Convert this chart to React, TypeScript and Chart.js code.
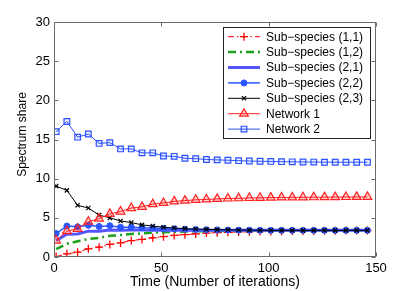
import React, { useEffect, useRef } from "react";
import { Chart, registerables } from "chart.js";
import { drawPoint } from "chart.js/helpers";

Chart.register(...registerables);

const ITER = [1, 6, 11, 16, 21, 26, 31, 36, 41, 46, 51, 56, 61, 66, 71, 76, 81, 86, 91, 96, 101, 106, 111, 116, 121, 126, 131, 136, 141, 146];
const SUB11 = [0.05, 0.4, 0.62, 1.05, 1.25, 1.6, 1.8, 2.1, 2.25, 2.45, 2.6, 2.75, 2.85, 2.95, 3.05, 3.1, 3.15, 3.2, 3.22, 3.25, 3.27, 3.3, 3.31, 3.32, 3.33, 3.35, 3.36, 3.37, 3.38, 3.38];
const SUB12 = [1.0, 1.7, 2.0, 2.3, 2.45, 2.7, 2.8, 2.95, 3.0, 3.1, 3.15, 3.2, 3.25, 3.28, 3.3, 3.32, 3.34, 3.35, 3.36, 3.37, 3.38, 3.38, 3.39, 3.39, 3.4, 3.4, 3.4, 3.4, 3.4, 3.4];
const SUB21 = [2.1, 2.9, 2.95, 3.3, 3.3, 3.45, 3.4, 3.45, 3.45, 3.42, 3.42, 3.42, 3.41, 3.41, 3.4, 3.4, 3.4, 3.4, 3.4, 3.4, 3.4, 3.4, 3.4, 3.4, 3.4, 3.4, 3.4, 3.4, 3.4, 3.4];
const SUB22 = [3.0, 3.95, 3.85, 4.05, 3.9, 4.0, 3.8, 3.8, 3.75, 3.7, 3.65, 3.6, 3.55, 3.5, 3.48, 3.46, 3.44, 3.43, 3.42, 3.41, 3.4, 3.4, 3.4, 3.4, 3.4, 3.4, 3.4, 3.4, 3.4, 3.4];
const SUB23 = [9.05, 8.5, 6.6, 6.25, 5.35, 5.0, 4.6, 4.4, 4.1, 3.95, 3.8, 3.7, 3.62, 3.57, 3.53, 3.5, 3.47, 3.45, 3.43, 3.42, 3.41, 3.4, 3.4, 3.4, 3.4, 3.4, 3.4, 3.4, 3.4, 3.4];
const NET1 = [2.1, 3.3, 3.6, 4.5, 4.9, 5.5, 5.8, 6.25, 6.4, 6.75, 6.9, 7.1, 7.2, 7.3, 7.35, 7.42, 7.47, 7.5, 7.53, 7.56, 7.58, 7.6, 7.61, 7.62, 7.63, 7.64, 7.65, 7.66, 7.67, 7.67];
const NET2 = [16.0, 17.3, 15.3, 15.7, 14.5, 14.6, 13.8, 13.8, 13.3, 13.3, 12.9, 12.85, 12.6, 12.55, 12.45, 12.4, 12.35, 12.3, 12.25, 12.22, 12.2, 12.17, 12.15, 12.13, 12.12, 12.1, 12.1, 12.1, 12.1, 12.1];

const LABELS = ["Sub\u2212species (1,1)", "Sub\u2212species (1,2)", "Sub\u2212species (2,1)", "Sub\u2212species (2,2)", "Sub\u2212species (2,3)", "Network 1", "Network 2"];
const X_TICKS = [0, 50, 100, 150];
const Y_TICKS = [0, 5, 10, 15, 20, 25, 30];
const X_TITLE = "Time (Number of iterations)";
const Y_TITLE = "Spectrum share";

const FONT = "'Liberation Sans', Arial, Helvetica, sans-serif";
const AXIS_COLOR = "#6a6a6a";

const pts = (ys: number[]) => ys.map((y, i) => ({ x: ITER[i], y }));

const boxPlugin = {
  id: "matlabBox",
  afterDatasetsDraw(chart: any) {
    const { ctx, chartArea: a, scales } = chart;
    const xs = scales.x, ys = scales.y;
    ctx.save();
    ctx.strokeStyle = AXIS_COLOR;
    ctx.lineWidth = 1;
    const l = Math.round(a.left) + 0.5, r = Math.round(a.right) - 0.5;
    const t = Math.round(a.top) + 0.5, b = Math.round(a.bottom) - 0.5;
    ctx.strokeRect(l, t, r - l, b - t);
    const tl = 4;
    ctx.beginPath();
    X_TICKS.forEach((v) => {
      const px = Math.round(xs.getPixelForValue(v)) + 0.5;
      ctx.moveTo(px, b); ctx.lineTo(px, b - tl);
      ctx.moveTo(px, t); ctx.lineTo(px, t + tl);
    });
    Y_TICKS.forEach((v) => {
      const py = Math.round(ys.getPixelForValue(v)) + 0.5;
      ctx.moveTo(l, py); ctx.lineTo(l + tl, py);
      ctx.moveTo(r, py); ctx.lineTo(r - tl, py);
    });
    ctx.stroke();
    // y-axis title, placed slightly above the vertical centre as in the reference
    ctx.save();
    ctx.translate(22.5, (a.top + a.bottom) / 2 - 5);
    ctx.rotate(-Math.PI / 2);
    ctx.fillStyle = "#000";
    ctx.font = `12px ${FONT}`;
    ctx.textAlign = "center";
    ctx.textBaseline = "middle";
    ctx.fillText(Y_TITLE, 0, 0);
    ctx.restore();
    ctx.restore();
  },
};

const legendPlugin = {
  id: "boxLegend",
  afterDraw(chart: any) {
    const { ctx, chartArea: a } = chart;
    const w = 147, h = 111;
    const R = a.right - 6, T = a.top + 5, L = R - w;
    ctx.save();
    ctx.fillStyle = "#ffffff";
    ctx.fillRect(L, T, w, h);
    ctx.strokeStyle = "#222222";
    ctx.lineWidth = 1;
    ctx.strokeRect(Math.round(L) + 0.5, Math.round(T) + 0.5, w, h);
    chart.data.datasets.forEach((ds: any, i: number) => {
      const y = T + 9.7 + i * 15.4;
      ctx.save();
      ctx.strokeStyle = ds.borderColor;
      ctx.lineWidth = ds.borderWidth;
      ctx.setLineDash(ds.borderDash || []);
      ctx.beginPath();
      ctx.moveTo(L + 5, y);
      ctx.lineTo(L + 37, y);
      ctx.stroke();
      ctx.setLineDash([]);
      if (ds.pointRadius > 0) {
        ctx.strokeStyle = ds.pointBorderColor || ds.borderColor;
        ctx.fillStyle = ds.pointBackgroundColor || ds.backgroundColor;
        ctx.lineWidth = ds.pointBorderWidth || 1;
        drawPoint(ctx, { pointStyle: ds.pointStyle, radius: ds.pointRadius, rotation: 0, borderWidth: ds.pointBorderWidth || 1 }, L + 21, y);
      }
      ctx.restore();
      ctx.fillStyle = "#000000";
      ctx.font = `12px ${FONT}`;
      ctx.textBaseline = "middle";
      ctx.textAlign = "left";
      ctx.fillText(ds.label, L + 43, y + 0.5);
    });
    ctx.restore();
  },
};

export default function App() {
  const ref = useRef<HTMLCanvasElement>(null);
  useEffect(() => {
    if (!ref.current) return;
    const chart = new Chart(ref.current, {
      type: "line",
      data: {
        datasets: [
          {
            label: LABELS[0], data: pts(SUB11), borderColor: "#ff0000", backgroundColor: "#ff0000",
            borderWidth: 1, borderDash: [6, 3, 1.5, 3], pointStyle: "cross", pointRadius: 4,
            pointBorderWidth: 1.3, order: 7,
          },
          {
            label: LABELS[1], data: pts(SUB12), borderColor: "#1ea01e", backgroundColor: "#1ea01e",
            borderWidth: 2.5, borderDash: [8, 4, 2, 4], pointRadius: 0, order: 6,
          },
          {
            label: LABELS[2], data: pts(SUB21), borderColor: "#5555ff", backgroundColor: "#5555ff",
            borderWidth: 3, pointRadius: 0, order: 5,
          },
          {
            label: LABELS[3], data: pts(SUB22), borderColor: "#2b55ff", backgroundColor: "#2b55ff",
            borderWidth: 1.5, pointStyle: "circle", pointRadius: 3, pointBorderWidth: 1, order: 4,
          },
          {
            label: LABELS[4], data: pts(SUB23), borderColor: "#000000", backgroundColor: "#000000",
            borderWidth: 1, pointStyle: "crossRot", pointRadius: 3, pointBorderWidth: 1.2, order: 3,
          },
          {
            label: LABELS[5], data: pts(NET1), borderColor: "#ff2020", backgroundColor: "rgba(255,0,0,0.18)",
            borderWidth: 1, pointStyle: "triangle", pointRadius: 5, pointBorderWidth: 1.2, order: 2,
          },
          {
            label: LABELS[6], data: pts(NET2), borderColor: "#2d52ff", backgroundColor: "rgba(45,82,255,0.1)",
            borderWidth: 1, pointStyle: "rect", pointRadius: 4, pointBorderWidth: 1.2, order: 1,
          },
        ],
      },
      options: {
        responsive: false,
        animation: false,
        devicePixelRatio: 1,
        layout: { padding: { left: 0, top: 22, right: 39, bottom: 0 } },
        plugins: { legend: { display: false }, tooltip: { enabled: false } },
        elements: { line: { tension: 0 } },
        scales: {
          x: {
            type: "linear", min: 0, max: 150,
            afterBuildTicks: (s: any) => { s.ticks = X_TICKS.map((v) => ({ value: v })); },
            afterFit: (s: any) => { s.height = 34; },
            grid: { display: false, drawTicks: false },
            border: { display: false },
            ticks: { color: "#000", font: { family: FONT, size: 13 }, padding: 4, maxRotation: 0 },
            title: { display: true, text: X_TITLE, color: "#000", font: { family: FONT, size: 14 }, padding: { top: 0, bottom: 0 } },
          },
          y: {
            type: "linear", min: 0, max: 30,
            afterBuildTicks: (s: any) => { s.ticks = Y_TICKS.map((v) => ({ value: v })); },
            afterFit: (s: any) => { s.width = 54; },
            grid: { display: false, drawTicks: false },
            border: { display: false },
            ticks: { color: "#000", font: { family: FONT, size: 13 }, padding: 4 },
            title: { display: false },
          },
        },
      },
      plugins: [boxPlugin, legendPlugin],
    });
    return () => chart.destroy();
  }, []);
  return (
    <div style={{ position: "fixed", left: 0, top: 0, width: 415, height: 291, background: "#fff" }}>
      <canvas ref={ref} width={415} height={291} style={{ display: "block" }} />
    </div>
  );
}
